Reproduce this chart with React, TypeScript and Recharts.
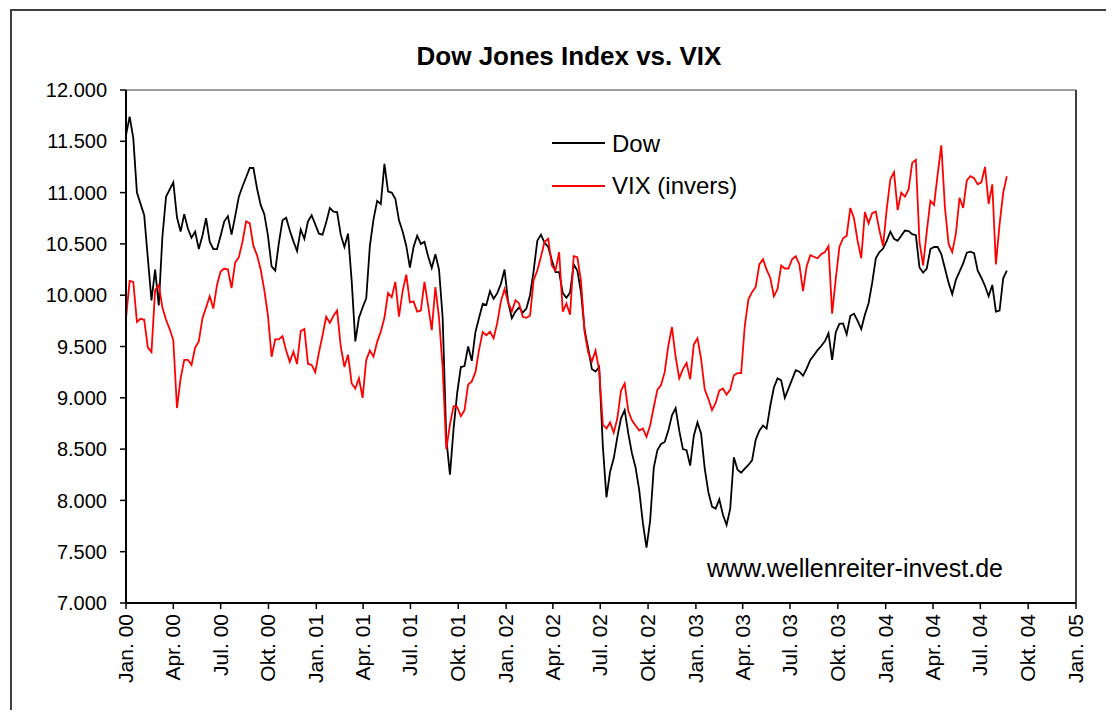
import { LineChart, Line, XAxis, YAxis, Legend, ReferenceLine } from 'recharts';

// weekly closes, Jan 2000 .. Aug 2004
const dow = [
  11560, 11740, 11530, 11000, 10890, 10780, 10360, 9950, 10250, 9900,
  10570, 10960, 11030, 11100, 10760, 10620, 10790, 10650, 10560, 10620,
  10450, 10580, 10750, 10520, 10450, 10450, 10580, 10720, 10770, 10590,
  10770, 10960, 11060, 11150, 11240, 11240, 11040, 10880, 10790, 10580,
  10280, 10240, 10510, 10730, 10755, 10630, 10525, 10430, 10640, 10550,
  10720, 10780, 10690, 10600, 10590, 10710, 10850, 10815, 10810, 10590,
  10470, 10600, 10140, 9550, 9780, 9880, 9970, 10480, 10740, 10920,
  10890, 11280, 11010, 11000, 10940, 10730, 10620, 10480, 10270, 10470,
  10580, 10500, 10520, 10380, 10265, 10400, 10250, 9780, 8600, 8250,
  8700, 9050, 9300, 9310, 9500, 9360, 9640, 9780, 9915, 9905,
  10040, 9965, 10020, 10110, 10250, 9930, 9775, 9840, 9880, 9830,
  9870, 10000, 10240, 10530, 10590, 10510, 10470, 10340, 10225, 10225,
  10020, 9975, 10025, 10300, 10240, 10030, 9660, 9480, 9280, 9255,
  9300, 8530, 8030, 8280, 8410, 8620, 8800, 8880, 8650, 8460,
  8320, 8100, 7780, 7540, 7800, 8320, 8490, 8550, 8570, 8680,
  8830, 8900, 8680, 8500, 8490, 8340, 8630, 8760, 8650, 8310,
  8080, 7940, 7920, 8010, 7860, 7760, 7920, 8420, 8300, 8270,
  8310, 8345, 8390, 8590, 8680, 8730, 8700, 8920, 9100, 9190,
  9170, 9000, 9090, 9180, 9270, 9255, 9215, 9285, 9370, 9415,
  9465, 9505, 9550, 9630, 9370, 9640, 9720, 9725, 9620, 9800,
  9820, 9750, 9670, 9810, 9920, 10120, 10360, 10420, 10455, 10530,
  10620, 10550, 10530, 10580, 10630, 10625, 10595, 10585, 10270, 10220,
  10260, 10450, 10470, 10470, 10400, 10260, 10120, 10010, 10150, 10230,
  10310, 10415, 10425, 10410, 10240, 10170, 10090, 9990, 10100, 9840,
  9850, 10165, 10240,
];

const vixInv = [
  9774, 10140, 10130, 9740, 9770, 9760, 9490, 9445, 10050, 10100,
  9880, 9760, 9670, 9560, 8900, 9190, 9370, 9370, 9320, 9490,
  9550, 9774, 9880, 9990, 9870, 10100, 10230, 10260, 10250, 10070,
  10320, 10370, 10520, 10720, 10700, 10480, 10390, 10250, 10050, 9800,
  9400, 9570, 9570, 9600, 9460, 9350, 9450, 9330, 9650, 9670,
  9330, 9320, 9250, 9440, 9610, 9790, 9730, 9800, 9850, 9500,
  9300, 9420, 9140, 9090, 9190, 9000, 9370, 9460, 9400, 9545,
  9645, 9780, 10020, 9980, 10130, 9790, 10040, 10200, 9930, 9940,
  9840, 9850, 10130, 9900, 9660, 10080, 9780, 9290, 8500, 8740,
  8920, 8910, 8820, 8880, 9130, 9160, 9250, 9470, 9640, 9610,
  9645, 9580, 9730, 9940, 10060, 9930, 9840, 9950, 9920, 9790,
  9780, 9800, 10150, 10240, 10375, 10520, 10550, 10290, 10240, 10420,
  9840, 9920, 9810, 10380, 10370, 10140, 9640, 9440, 9355, 9460,
  9270, 8740, 8700, 8760, 8660, 8800, 9070, 9140, 8870, 8780,
  8730, 8680, 8700, 8620, 8730, 8910, 9080, 9125, 9250, 9510,
  9690, 9400, 9190, 9280, 9340, 9180, 9520, 9580, 9380, 9080,
  8990, 8880, 8950, 9070, 9090, 9030, 9080, 9220, 9240, 9240,
  9700, 9960, 10030, 10080, 10300, 10350, 10250, 10170, 9990, 10060,
  10290, 10260, 10260, 10350, 10380, 10300, 10040, 10280, 10390, 10375,
  10360, 10400, 10420, 10480, 9820, 10160, 10470, 10555, 10580, 10850,
  10750, 10530, 10360, 10810, 10700, 10800, 10815, 10630, 10480, 10840,
  11130, 11200, 10830, 11000, 10960, 11030, 11290, 11320, 10520, 10290,
  10620, 10920, 10880, 11180, 11460, 10850, 10500, 10420, 10600, 10950,
  10850, 11120, 11160, 11140, 11080, 11100, 11250, 10890, 11080, 10300,
  10690, 11000, 11160,
];

const yTicks = [7000, 7500, 8000, 8500, 9000, 9500, 10000, 10500, 11000, 11500, 12000];
const quarterNames = ['Jan.', 'Apr.', 'Jul.', 'Okt.'];

const DAY = 86400000;
const BASE = Date.UTC(2000, 0, 1);
const END_DAY = (Date.UTC(2005, 0, 1) - BASE) / DAY;

const xTicks: number[] = [];
const xLabels: string[] = [];
for (let y = 2000; y <= 2005; y++) {
  for (let q = 0; q < 4; q++) {
    if (y === 2005 && q > 0) break;
    xTicks.push((Date.UTC(y, q * 3, 1) - BASE) / DAY);
    xLabels.push(`${quarterNames[q]} ${String(y).slice(2)}`);
  }
}

const data = dow.map((v, i) => ({ day: i * 7, dow: v, vix: vixInv[i] }));

const FONT = '"Liberation Sans", Arial, sans-serif';

const fmtDe = (v: number) => `${Math.floor(v / 1000)}.${String(v % 1000).padStart(3, '0')}`;

function XTick(props: any) {
  const { x, y, payload } = props;
  const i = xTicks.indexOf(payload.value);
  return (
    <text
      x={x + 7}
      y={y + 3}
      transform={`rotate(-90 ${x + 7} ${y + 3})`}
      textAnchor="end"
      fontSize={21}
      fontFamily={FONT}
      fill="#000"
    >
      {xLabels[i]}
    </text>
  );
}

function LegendBox(props: any) {
  const items = props.payload || [];
  return (
    <svg width={220} height={90}>
      {items.map((p: any, i: number) => (
        <g key={i}>
          <line x1={2} x2={55} y1={23 + i * 43} y2={23 + i * 43} stroke={p.color} strokeWidth={2} />
          <text x={62} y={32 + i * 41.5} fontSize={24} fontFamily={FONT} fill="#000">
            {p.value}
          </text>
        </g>
      ))}
    </svg>
  );
}

export default function App() {
  return (
    <div style={{ position: 'relative', width: 1114, height: 718, margin: -8, overflow: 'hidden', background: '#fff' }}>
      <div
        style={{
          position: 'absolute', left: 10, top: 9, width: 1200, height: 800,
          borderTop: '2px solid #404040', borderLeft: '2px solid #404040',
        }}
      />
      <LineChart
        width={1114}
        height={718}
        data={data}
        margin={{ top: 90, right: 38, bottom: 0, left: 0 }}
        style={{ position: 'absolute', left: 0, top: 0 }}
      >
        <XAxis
          type="number"
          dataKey="day"
          domain={[0, END_DAY]}
          ticks={xTicks}
          interval={0}
          height={115}
          tickSize={6}
          tick={<XTick />}
          axisLine={{ stroke: '#000', strokeWidth: 2 }}
          tickLine={{ stroke: '#000', strokeWidth: 1.5 }}
          allowDataOverflow
        />
        <YAxis
          domain={[7000, 12000]}
          ticks={yTicks}
          interval={0}
          width={126}
          tickSize={6}
          tickMargin={13}
          tickFormatter={fmtDe}
          tick={{ fill: '#000', fontSize: 20, fontFamily: FONT }}
          axisLine={{ stroke: '#000', strokeWidth: 2 }}
          tickLine={{ stroke: '#000', strokeWidth: 1.5 }}
          allowDataOverflow
        />
        <ReferenceLine y={12000} stroke="#a0a0a0" strokeWidth={2} />
        <ReferenceLine x={END_DAY} stroke="#404040" strokeWidth={2} />
        {/* centred + middle so the legend takes no room from the plot */}
        <Legend
          layout="vertical"
          verticalAlign="middle"
          align="center"
          content={<LegendBox />}
          wrapperStyle={{ position: 'absolute', left: 550, top: 120, width: 220, height: 90 }}
        />
        <Line type="linear" dataKey="dow" name="Dow" stroke="#000" strokeWidth={1.8} dot={false} isAnimationActive={false} />
        <Line type="linear" dataKey="vix" name="VIX (invers)" stroke="#ff0000" strokeWidth={1.8} dot={false} isAnimationActive={false} />
      </LineChart>
      <svg width={1114} height={718} style={{ position: 'absolute', left: 0, top: 0, pointerEvents: 'none' }}>
        <text x={569} y={64.5} textAnchor="middle" fontSize={26} fontWeight="bold" fontFamily={FONT} fill="#000">
          Dow Jones Index vs. VIX
        </text>
        <text x={707} y={577} fontSize={25} fontFamily={FONT} fill="#000">
          www.wellenreiter-invest.de
        </text>
      </svg>
    </div>
  );
}
